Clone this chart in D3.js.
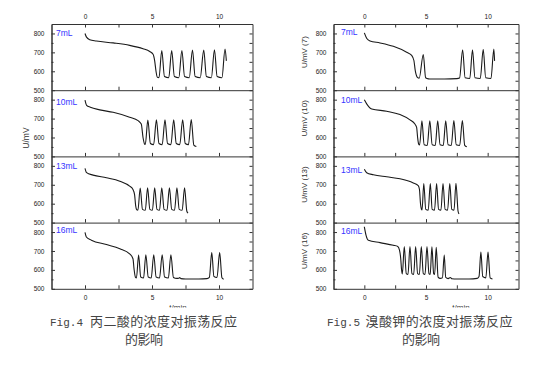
<!DOCTYPE html>
<html>
<head>
<meta charset="utf-8">
<script src="https://cdn.jsdelivr.net/npm/d3@7"></script>
<style>
  body { margin: 0; background: #fff; }
  svg { display: block; }
  .tick text { font-family: "Liberation Sans", Arial, sans-serif; font-size: 6.5px; fill: #222; }
  .domain, .tick line { stroke: #333; }
</style>
</head>
<body>
<div id="chart"></div>
<script>
// x ticks (t/min) and y ticks (U/mV)
const xMajor = [0, 5, 10];
const xMinor = [2.5, 7.5];
const yMajor = [500, 600, 700, 800];
const yMinor = [550, 650, 750];
const panelNames = ['7mL', '10mL', '13mL', '16mL'];

// Fig.4 : malonic acid volume, [t (min), U (mV)]
const fig4_7mL = [[0,800],[0.1,782],[0.35,767],[0.85,760],[2.1,750],[3.33,737],[4.33,719],[4.83,705],[5.08,690],[5.2,655],[5.3,600],[5.4,568],[5.52,566],
  [5.73,710],[5.93,572],[6.25,566],[6.47,710],[6.67,572],[7.0,566],[7.23,710],[7.43,572],[7.78,566],[8.02,712],[8.22,572],[8.6,566],
  [8.86,712],[9.06,572],[9.43,566],[9.66,714],[9.86,572],[10.22,566],[10.45,718],[10.55,655]];
const fig4_10mL = [[0,797],[0.12,770],[0.4,760],[1.1,746],[2.1,733],[3.33,707],[3.96,689],[4.2,671],[4.33,600],[4.45,565],[4.5,563],
  [4.69,692],[4.88,568],[5.12,562],[5.33,693],[5.52,568],[5.76,562],[5.97,693],[6.16,568],[6.41,562],[6.62,694],[6.81,568],[7.07,562],
  [7.29,694],[7.48,568],[7.72,562],[7.93,695],[8.12,560],[8.31,552]];
const fig4_13mL = [[0,787],[0.12,764],[0.6,751],[1.6,737],[2.6,719],[3.33,693],[3.58,675],[3.7,648],[3.78,590],[3.86,568],[3.95,566],
  [4.12,683],[4.29,570],[4.5,565],[4.67,684],[4.84,570],[5.03,565],[5.2,684],[5.37,570],[5.56,565],[5.73,684],[5.9,570],[6.12,565],
  [6.3,684],[6.47,570],[6.68,565],[6.86,684],[7.03,570],[7.25,565],[7.43,684],[7.6,560],[7.69,550]];
const fig4_16mL = [[0,798],[0.1,774],[0.48,757],[1.6,734],[2.6,712],[3.33,685],[3.58,659],[3.66,605],[3.76,562],[3.84,558],
  [4.0,678],[4.16,562],[4.37,557],[4.54,680],[4.72,562],[4.94,557],[5.13,680],[5.31,562],[5.56,557],[5.76,680],[5.94,562],[6.22,557],
  [6.41,680],[6.6,560],[6.85,555],[7.0,556],[7.07,560],[7.15,554],[7.5,552],[8.5,552],[9.1,554],[9.28,560],
  [9.46,692],[9.62,565],[9.85,560],[10.05,692],[10.22,558],[10.35,550]];

// Fig.5 : potassium bromate volume
const fig5_7mL = [[0,803],[0.2,773],[0.46,760],[1.27,750],[2.35,732],[3.43,701],[3.84,684],[4.02,657],[4.13,603],[4.3,568],[4.45,564],
  [4.78,689],[4.97,566],[5.2,560],[5.4,559],[6.5,559],[7.5,561],[7.72,564],
  [7.97,714],[8.17,566],[8.55,562],[8.77,714],[8.97,566],[9.4,562],[9.64,716],[9.84,566],[10.27,562],[10.5,718],[10.56,655]];
const fig5_10mL = [[0,799],[0.19,778],[0.6,751],[1.81,739],[2.89,721],[3.7,693],[4.1,671],[4.24,653],[4.32,600],[4.4,566],[4.48,560],
  [4.67,688],[4.85,562],[5.1,558],[5.31,688],[5.5,562],[5.75,558],[5.95,688],[6.14,562],[6.4,558],[6.6,688],[6.79,562],[7.05,558],
  [7.26,689],[7.45,562],[7.73,558],[7.95,690],[8.14,558],[8.31,551]];
const fig5_13mL = [[0,782],[0.19,764],[0.73,753],[1.81,742],[2.89,732],[3.97,710],[4.37,696],[4.47,675],[4.55,603],[4.63,571],[4.68,567],
  [4.82,707],[4.98,570],[5.18,566],[5.35,707],[5.5,570],[5.69,566],[5.86,707],[6.02,570],[6.21,566],[6.38,707],[6.55,570],[6.75,566],
  [6.93,707],[7.09,570],[7.27,566],[7.43,708],[7.6,560],[7.68,546]];
const fig5_16mL = [[0,828],[0.14,783],[0.33,757],[1.27,744],[2.35,730],[2.71,724],[2.85,705],[2.95,660],[3.02,600],[3.08,578],
  [3.24,724],[3.4,580],[3.54,576],[3.7,724],[3.86,580],[4.0,576],[4.16,724],[4.32,580],[4.46,576],[4.62,724],[4.78,580],[4.92,576],
  [5.08,724],[5.24,580],[5.34,576],[5.48,722],[5.62,580],[5.7,576],[5.83,720],[5.98,562],[6.15,555],[6.33,558],
  [6.48,678],[6.6,560],[6.8,554],[6.97,560],[7.1,553],[7.5,552],[8.5,552],[9.15,555],[9.3,565],
  [9.45,694],[9.6,565],[9.85,558],[10.03,694],[10.2,558],[10.39,552]];

const W = 554, H = 372;
const plotTop = 24, panelH = 66.2;

const svg = d3.select('#chart').append('svg')
  .attr('width', W).attr('height', H);

const figures = [
  {
    x0: 51.5, x1: 252.5,
    series: [fig4_7mL, fig4_10mL, fig4_13mL, fig4_16mL],
    yTitles: ['U/mV'],
    labelX: 56, labelDy: [9.5, 11.5, 10, 7.5],
    capFig: 'Fig.4', capFigX: 50, capFigW: 33,
    capText: '丙二酸的浓度对振荡反应', capTextX: 90, capTextW: 147,
    cap2X: 125, xTitleX: 178
  },
  {
    x0: 333.5, x1: 518.5,
    series: [fig5_7mL, fig5_10mL, fig5_13mL, fig5_16mL],
    yTitles: ['U/mV (7)', 'U/mV (10)', 'U/mV (13)', 'U/mV (16)'],
    labelX: 341, labelDy: [8, 10, 14, 8],
    capFig: 'Fig.5', capFigX: 327, capFigW: 33,
    capText: '溴酸钾的浓度对振荡反应', capTextX: 365.5, capTextW: 147,
    cap2X: 402, xTitleX: 461
  }
];

figures.forEach(f => {
  const x = d3.scaleLinear().domain([-2.5, 12.5]).range([f.x0, f.x1]);
  const g = svg.append('g');

  f.series.forEach((data, i) => {
    const yTop = plotTop + panelH * i;
    const yBot = yTop + panelH;
    const y = d3.scaleLinear().domain([500, 850]).range([yBot, yTop]);

    // y axes, ticks pointing inward
    g.append('g').attr('transform', `translate(${f.x0},0)`)
      .call(d3.axisLeft(y).tickValues(yMajor).tickSize(-3.5).tickSizeOuter(0).tickPadding(7));
    g.append('g').attr('transform', `translate(${f.x0},0)`)
      .call(d3.axisLeft(y).tickValues(yMinor).tickSize(-2).tickSizeOuter(0).tickFormat(''));
    g.append('g').attr('transform', `translate(${f.x1},0)`)
      .call(d3.axisRight(y).tickValues(yMajor.concat(yMinor)).tickSize(-3).tickSizeOuter(0).tickFormat(''));

    // x axis at the panel bottom
    g.append('g').attr('transform', `translate(0,${yBot})`)
      .call(d3.axisBottom(x).tickValues(xMajor.concat(xMinor)).tickSize(-3.5).tickSizeOuter(0)
        .tickPadding(7).tickFormat(d => (i === 3 && xMajor.includes(d)) ? d : ''));

    if (i === 0) {
      g.append('g').attr('transform', `translate(0,${yTop})`)
        .call(d3.axisTop(x).tickValues(xMajor.concat(xMinor)).tickSize(-3.5).tickSizeOuter(0)
          .tickPadding(5).tickFormat(d => xMajor.includes(d) ? d : ''));
    }

    g.append('path')
      .datum(data)
      .attr('fill', 'none')
      .attr('stroke', '#1a1a1a')
      .attr('stroke-width', 1.1)
      .attr('d', d3.line().x(d => x(d[0])).y(d => y(d[1])).curve(d3.curveMonotoneX));

    g.append('text')
      .attr('x', f.labelX).attr('y', yTop + f.labelDy[i])
      .attr('dy', '0.35em')
      .attr('font-family', '"Liberation Sans", Arial, sans-serif')
      .attr('font-size', 8.5)
      .attr('fill', '#3535ff')
      .text(panelNames[i]);

    if (f.yTitles.length === 4) {
      g.append('text')
        .attr('transform', `translate(${f.x0 - 26.5},${yTop + panelH / 2 - 5}) rotate(-90)`)
        .attr('text-anchor', 'middle')
        .attr('font-family', '"Liberation Sans", Arial, sans-serif')
        .attr('font-size', 8)
        .attr('fill', '#333')
        .text(f.yTitles[i]);
    }
  });

  if (f.yTitles.length === 1) {
    g.append('text')
      .attr('transform', `translate(${f.x0 - 23},138) rotate(-90)`)
      .attr('text-anchor', 'middle')
      .attr('font-family', '"Liberation Sans", Arial, sans-serif')
      .attr('font-size', 8.5)
      .attr('fill', '#333')
      .text(f.yTitles[0]);
  }

  // x title, cut at the bottom like the source image
  g.append('text')
    .attr('x', f.xTitleX).attr('y', 309.5)
    .attr('text-anchor', 'middle')
    .attr('font-family', '"Liberation Sans", Arial, sans-serif')
    .attr('font-size', 8)
    .attr('fill', '#333')
    .text('t/min');
  g.append('rect').attr('x', f.xTitleX - 15).attr('y', 307.5).attr('width', 30).attr('height', 6).attr('fill', '#fff');

  // caption
  g.append('text')
    .attr('x', f.capFigX).attr('y', 326)
    .attr('font-family', '"Liberation Mono", monospace')
    .attr('font-size', 11.5)
    .attr('textLength', f.capFigW).attr('lengthAdjust', 'spacingAndGlyphs')
    .attr('fill', '#444')
    .text(f.capFig);
  g.append('text')
    .attr('x', f.capTextX).attr('y', 326)
    .attr('font-family', '"Noto Sans CJK SC", sans-serif')
    .attr('font-size', 13)
    .attr('textLength', f.capTextW).attr('lengthAdjust', 'spacing')
    .attr('fill', '#444')
    .text(f.capText);
  g.append('text')
    .attr('x', f.cap2X).attr('y', 344)
    .attr('font-family', '"Noto Sans CJK SC", sans-serif')
    .attr('font-size', 13)
    .attr('textLength', 38).attr('lengthAdjust', 'spacing')
    .attr('fill', '#444')
    .text('的影响');
});
</script>
</body>
</html>
